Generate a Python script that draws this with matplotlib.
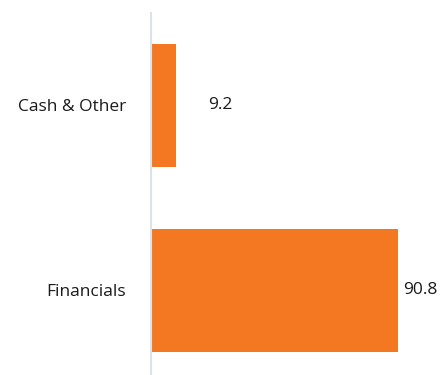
import matplotlib
matplotlib.use("Agg")
import matplotlib.pyplot as plt

# Данные
categories = ["Financials", "Cash & Other"]
values = [90.8, 9.2]
label_offsets = [3.5, 23]  # отступ подписи от конца столбца, pt

BAR_COLOR = "#F47721"
AXIS_COLOR = "#DDE1E8"

plt.rcParams['font.family'] = ['Open Sans', 'DejaVu Sans']

fig = plt.figure(figsize=(4.43, 3.75), dpi=100)
ax = fig.add_axes([151 / 443, 0, 292 / 443, 362 / 375])

positions = range(len(categories))
ax.barh(positions, values, height=0.665, color=BAR_COLOR)

for pos, val, off in zip(positions, values, label_offsets):
    ax.annotate(f"{val:.1f}", xy=(val, pos), xytext=(off, 0),
                textcoords="offset points", va="center", ha="left",
                fontsize=12.5, color="#1a1a1a")

ax.set_xlim(0, 292 / 2.72)
ax.set_ylim(-0.457, 1.5)
ax.set_yticks(list(positions))
ax.set_yticklabels(categories, fontsize=12.5, color="#1a1a1a")
ax.tick_params(axis="y", length=0, pad=18)
ax.set_xticks([])

for side in ["top", "right", "bottom"]:
    ax.spines[side].set_visible(False)
ax.spines["left"].set_color(AXIS_COLOR)
ax.spines["left"].set_linewidth(1.5)

fig.savefig("out.png", dpi=100)
